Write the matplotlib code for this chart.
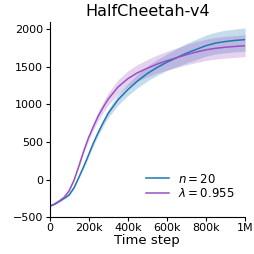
import numpy as np
import matplotlib
matplotlib.use('Agg')
import matplotlib.pyplot as plt

steps = [0, 25e3, 50e3, 75e3, 100e3, 125e3, 150e3, 175e3, 200e3, 225e3, 250e3, 275e3, 300e3,
         350e3, 400e3, 450e3, 500e3, 550e3, 600e3, 650e3, 700e3, 750e3, 800e3, 850e3,
         900e3, 950e3, 1e6]

n20_mean = [-355, -330, -290, -250, -205, -110, 30, 175, 330, 490, 630, 760, 880,
            1060, 1195, 1310, 1410, 1490, 1560, 1620, 1680, 1730, 1780, 1815,
            1835, 1850, 1860]
n20_std = [5, 5, 8, 10, 12, 15, 20, 25, 30, 35, 40, 45, 55,
           70, 80, 90, 100, 105, 110, 120, 130, 135, 140, 145,
           150, 152, 155]

lam_mean = [-355, -325, -285, -235, -150, -10, 180, 380, 560, 710, 850, 965, 1070,
            1230, 1340, 1420, 1480, 1535, 1580, 1620, 1660, 1695, 1725, 1745,
            1760, 1770, 1780]
lam_std = [5, 5, 8, 10, 12, 15, 20, 30, 40, 50, 60, 70, 80,
           95, 105, 110, 115, 120, 125, 130, 135, 140, 140, 145,
           145, 145, 145]

blue = '#1f77b4'
purple = '#9a4fc2'

fig, ax = plt.subplots(figsize=(2.54, 2.54), dpi=100)

x = np.array(steps)
for mean, std, color, label in [(n20_mean, n20_std, blue, r'$n = 20$'),
                                (lam_mean, lam_std, purple, r'$\lambda = 0.955$')]:
    mean = np.array(mean)
    std = np.array(std)
    ax.fill_between(x, mean - std, mean + std, color=color, alpha=0.25, lw=0)
    ax.plot(x, mean, color=color, lw=1.1, label=label)

ax.set_xlim(0, 1e6)
ax.set_ylim(-500, 2100)
ax.set_xticks([0, 2e5, 4e5, 6e5, 8e5, 1e6])
ax.set_xticklabels(['0', '200k', '400k', '600k', '800k', '1M'])
ax.set_yticks([-500, 0, 500, 1000, 1500, 2000])
ax.tick_params(labelsize=8, length=3, pad=1.5)
ax.spines['top'].set_visible(False)
ax.spines['right'].set_visible(False)

ax.set_title('HalfCheetah-v4', fontsize=11.5, pad=4)
ax.set_xlabel('Time step', fontsize=9.5, labelpad=0.5)
ax.legend(loc='lower right', bbox_to_anchor=(0.968, 0.062), frameon=False,
          fontsize=8.5, handlelength=2.0, handletextpad=0.7,
          borderaxespad=0, labelspacing=0.15)

fig.subplots_adjust(left=0.195, right=0.965, top=0.915, bottom=0.145)
fig.savefig('out.png', dpi=100)
